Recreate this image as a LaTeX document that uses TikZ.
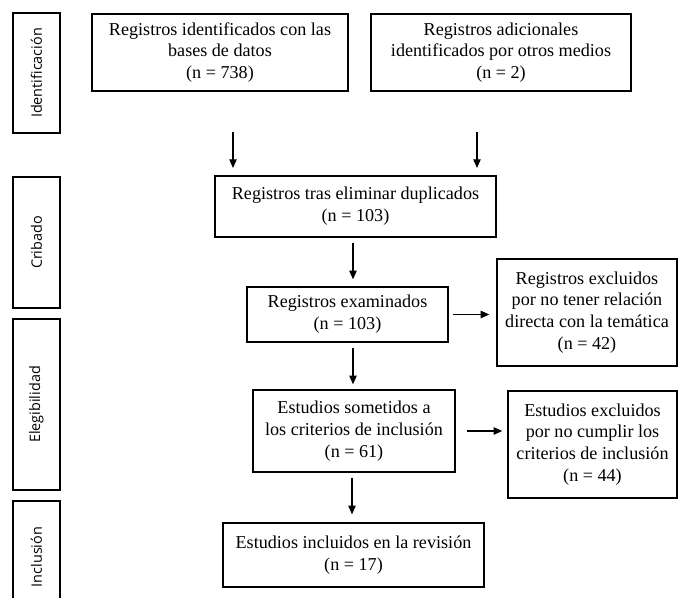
\documentclass[tikz,border=0pt]{standalone}
\usepackage{fontspec}
\setmainfont{Liberation Serif}
\newfontfamily\labelfont{Open Sans}
\usetikzlibrary{arrows.meta}
\begin{document}
\begin{tikzpicture}[x=0.75pt,y=-0.75pt,
  box/.style={draw, line width=0.95pt, align=center, inner sep=0pt,
    font=\fontsize{13.6}{16.3}\selectfont},
  side/.style={draw, line width=0.95pt, rotate=90, inner sep=0pt,
    minimum height=35.25pt, font=\labelfont\fontsize{10.8}{13}\selectfont},
  sidetext/.style={rotate=90, inner sep=0pt, font=\labelfont\fontsize{10.8}{13}\selectfont},
  arr/.style={line width=0.95pt, -{Triangle[length=6.5pt,width=5.5pt]}}]
\useasboundingbox (0,0) rectangle (678,598);

% phase labels
\node[side, minimum width=90pt] (ident) at (36.5,73) {Identificación};
\node[side, minimum width=98.25pt] (crib) at (36.5,242.5) {Cribado};
\node[side, minimum width=128.25pt] (eleg) at (36.5,404.5) {Elegibilidad};
\draw[line width=0.95pt] (13,598) |- (60,501) -- (60,598);
\node[sidetext] (incl) at (36.5,557) {Inclusión};

% boxes
\node[box, minimum width=192pt, minimum height=57.75pt] (b1) at (220,52.5)
  {Registros identificados con las\\bases de datos\\(n = 738)};
\node[box, minimum width=195pt, minimum height=57.75pt] (b2) at (501,52.5)
  {Registros adicionales\\identificados por otros medios\\(n = 2)};
\node[box, minimum width=210.75pt, minimum height=45.75pt] (b3) at (355.5,206.5)
  {Registros tras eliminar duplicados\\(n = 103)};
\node[box, minimum width=150.75pt, minimum height=41.25pt] (b4) at (347.5,314.5)
  {Registros examinados\\(n = 103)};
\node[box, minimum width=135pt, minimum height=80.25pt] (b5) at (587,312.5)
  {Registros excluidos\\por no tener relación\\directa con la temática\\(n = 42)};
\node[box, minimum width=151.5pt, minimum height=61.5pt] (b6) at (354,431)
  {Estudios sometidos a\\los criterios de inclusión\\(n = 61)};
\node[box, minimum width=126.75pt, minimum height=80.25pt] (b7) at (592.5,444.5)
  {Estudios excluidos\\por no cumplir los\\criterios de inclusión\\(n = 44)};
\node[box, minimum width=195.75pt, minimum height=48pt] (b8) at (353.5,555)
  {Estudios incluidos en la revisión\\(n = 17)};

% arrows
\coordinate (a1s) at (233,132);
\coordinate (a1e) at (233,168);
\coordinate (a2s) at (477,132);
\coordinate (a2e) at (477,168);
\draw[arr] (a1s) -- (a1e);
\draw[arr] (a2s) -- (a2e);

\coordinate (x353) at (353,0);
\coordinate (x352) at (352,0);
\draw[arr, shorten <=3.75pt, shorten >=5.25pt] (b3.south -| x353) -- (b4.north -| x353);
\draw[arr, shorten <=3pt, shorten >=5.25pt] (b4.east) -- (b5.west |- b4.east);
\draw[arr, shorten <=3.75pt, shorten >=3.75pt] (b4.south -| x353) -- (b6.north -| x353);
\draw[arr, shorten <=8.25pt, shorten >=3.75pt] (b6.east) -- (b7.west |- b6.east);
\draw[arr, shorten <=3.75pt, shorten >=6pt] (b6.south -| x352) -- (b8.north -| x352);
\end{tikzpicture}
\end{document}
